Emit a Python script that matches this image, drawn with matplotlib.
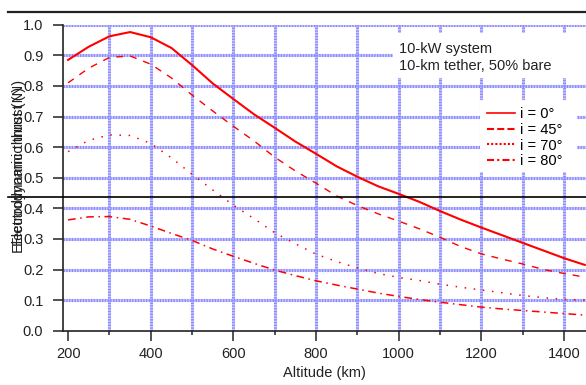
import matplotlib
matplotlib.use("Agg")
import matplotlib.pyplot as plt
from matplotlib.lines import Line2D
from matplotlib.patches import Rectangle

plt.rcParams["font.family"] = ["Liberation Sans", "DejaVu Sans"]

# altitude (km) and electrodynamic thrust (N) for each inclination
altitude = [200, 250, 300, 350, 400, 450, 500, 550, 600, 650, 700, 750, 800,
            850, 900, 950, 1000, 1050, 1100, 1150, 1200, 1250, 1300, 1350,
            1400, 1450]
thrust_i0 = [0.885, 0.928, 0.962, 0.976, 0.959, 0.924, 0.868, 0.808, 0.757,
             0.707, 0.663, 0.618, 0.578, 0.537, 0.503, 0.472, 0.447, 0.421,
             0.391, 0.363, 0.337, 0.312, 0.287, 0.262, 0.237, 0.215]
thrust_i45 = [0.810, 0.858, 0.893, 0.898, 0.871, 0.826, 0.770, 0.718, 0.668,
              0.620, 0.567, 0.522, 0.482, 0.440, 0.409, 0.382, 0.358, 0.333,
              0.305, 0.275, 0.251, 0.234, 0.218, 0.200, 0.187, 0.175]
thrust_i70 = [0.585, 0.622, 0.640, 0.638, 0.612, 0.565, 0.511, 0.460, 0.410,
              0.366, 0.320, 0.284, 0.250, 0.226, 0.205, 0.187, 0.174, 0.164,
              0.152, 0.142, 0.133, 0.124, 0.115, 0.108, 0.102, 0.100]
thrust_i80 = [0.362, 0.372, 0.373, 0.364, 0.342, 0.318, 0.295, 0.267, 0.243,
              0.220, 0.198, 0.180, 0.163, 0.149, 0.136, 0.123, 0.112, 0.102,
              0.093, 0.085, 0.077, 0.071, 0.066, 0.061, 0.056, 0.051]

labels = ["i = 0°", "i = 45°", "i = 70°", "i = 80°"]
x_major = [200, 400, 600, 800, 1000, 1200, 1400]
x_minor = [300, 500, 700, 900, 1100, 1300]
x_grid = [300, 400, 500, 600, 700, 800, 900, 1000, 1100, 1200, 1300, 1400]
y_ticks = [0.0, 0.1, 0.2, 0.3, 0.4, 0.5, 0.6, 0.7, 0.8, 0.9, 1.0]

W, H = 586, 385
fig = plt.figure(figsize=(W / 100, H / 100), dpi=100)
ax = fig.add_axes([62.7 / W, 1 - 330.7 / H, (W - 62.7) / W, (330.7 - 24.7) / H])

# thick striped blue grid: light base with darker stripes on top
base_kw = dict(color="#c8c8ff", lw=2.2, zorder=1)
stripe_kw = dict(color="#8c8cff", lw=2.2, ls=(0, (0.45, 0.45)), zorder=1.1)
for y in y_ticks[1:]:
    ax.axhline(y, **base_kw)
    ax.axhline(y, **stripe_kw)
for x in x_grid:
    ax.axvline(x, **base_kw)
    ax.axvline(x, **stripe_kw)

red = "#ff0000"
styles = ["-", (0, (5, 5)), (0, (1, 5)), (0, (5, 3, 1, 3))]
series = [thrust_i0, thrust_i45, thrust_i70, thrust_i80]
widths = [1.5, 1.0, 1.1, 1.1]
for vals, ls, lw in zip(series, styles, widths):
    ax.plot(altitude, vals, color=red, lw=lw, ls=ls, zorder=3)

ax.set_xlim(187, 1453)
ax.set_ylim(0, 1.0)
ax.set_xticks(x_major)
ax.set_xticks(x_minor, minor=True)
ax.set_yticks(y_ticks)
ax.set_yticklabels([f"{v:.1f}" for v in y_ticks])
ax.tick_params(axis="y", direction="out", length=7, width=1.2, pad=7,
               labelsize=10.5, color="#333333", labelcolor="#222222")
ax.tick_params(axis="x", which="major", direction="out", length=7, width=1.2,
               pad=5, labelsize=10.5, color="#333333", labelcolor="#222222")
ax.tick_params(axis="x", which="minor", direction="out", length=3, width=1.2,
               color="#333333")
for s in ["top", "right"]:
    ax.spines[s].set_visible(False)
for s in ["left", "bottom"]:
    ax.spines[s].set_linewidth(1.2)
    ax.spines[s].set_color("#222222")

ax.set_xlabel("Altitude (km)", fontsize=10.5, color="#222222", labelpad=3)

# y label drawn twice, slightly offset (as in the source image)
for yc in (170, 163):
    fig.text(19 / W, 1 - yc / H, "Electrodynamic thrust (N)", rotation=90,
             ha="center", va="center", fontsize=10.5, color="#222222")

# black rules across the figure
fig.add_artist(Line2D([8 / W, 1], [1 - 12 / H] * 2, color="#222222", lw=1.6))
fig.add_artist(Line2D([8 / W, 1], [1 - 197 / H] * 2, color="black", lw=1.2))

# white boxes behind annotation and legend
fig.add_artist(Rectangle((393 / W, 1 - 78 / H), 193 / W, 45 / H,
                         transform=fig.transFigure, facecolor="white",
                         edgecolor="none", zorder=3))
fig.add_artist(Rectangle((480 / W, 1 - 172 / H), 97 / W, 72 / H,
                         transform=fig.transFigure, facecolor="white",
                         edgecolor="none", zorder=3))
fig.text(399 / W, 1 - 57.5 / H, "10-kW system\n10-km tether, 50% bare",
         ha="left", va="center", fontsize=10.5, color="#222222",
         linespacing=1.2, zorder=4)

# legend keys use shorter dash patterns than the plotted curves
key_styles = ["-", (0, (3.4, 1.5)), (0, (1, 1)), (0, (3.4, 1.5, 1, 1.5))]
key_widths = [1.2, 1.5, 1.5, 1.5]
handles = [Line2D([], [], color=red, ls=ls, lw=lw)
           for ls, lw in zip(key_styles, key_widths)]
leg = fig.legend(handles, labels, loc="upper left",
                 bbox_to_anchor=(487 / W, 1 - 107 / H), frameon=False,
                 fontsize=10.5, borderpad=0, borderaxespad=0,
                 handlelength=1.92, handletextpad=0.34, labelspacing=0.12)
leg.set_zorder(5)

fig.savefig("out.png", dpi=100)
